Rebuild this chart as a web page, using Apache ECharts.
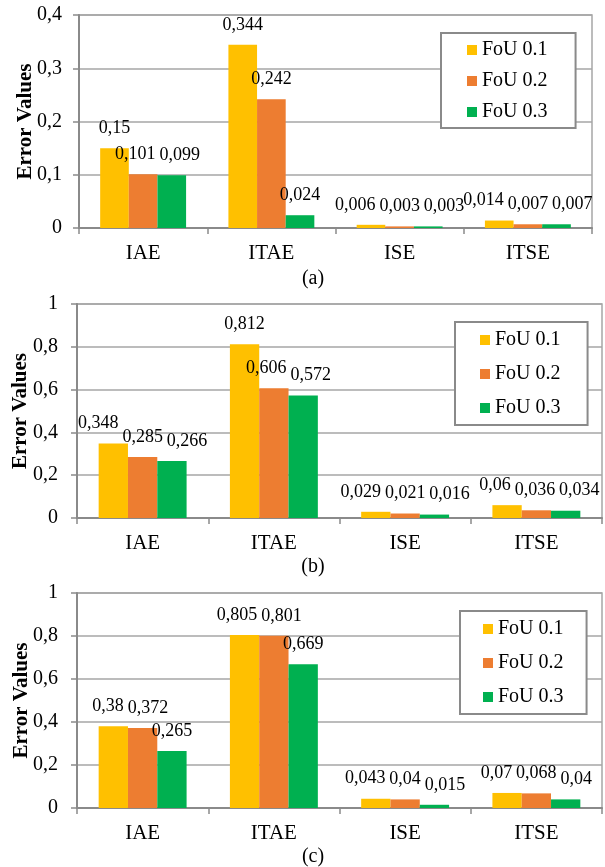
<!DOCTYPE html>
<html>
<head>
<meta charset="utf-8">
<script src="https://cdn.jsdelivr.net/npm/echarts@6/dist/echarts.min.js"></script>
<style>
html,body{margin:0;padding:0;background:#fff;}
#c{width:605px;height:867px;}
</style>
</head>
<body>
<div id="c"></div>
<script>
// ---- Data ----
const categories = ['IAE', 'ITAE', 'ISE', 'ITSE'];
const seriesNames = ['FoU 0.1', 'FoU 0.2', 'FoU 0.3'];
// panel (a)
const a_fou1 = [0.15, 0.344, 0.006, 0.014];
const a_fou2 = [0.101, 0.242, 0.003, 0.007];
const a_fou3 = [0.099, 0.024, 0.003, 0.007];
// panel (b)
const b_fou1 = [0.348, 0.812, 0.029, 0.06];
const b_fou2 = [0.285, 0.606, 0.021, 0.036];
const b_fou3 = [0.266, 0.572, 0.016, 0.034];
// panel (c)
const c_fou1 = [0.38, 0.805, 0.043, 0.07];
const c_fou2 = [0.372, 0.801, 0.04, 0.068];
const c_fou3 = [0.265, 0.669, 0.015, 0.04];
const yTicksA = [0, 0.1, 0.2, 0.3, 0.4];
const yTicksBC = [0, 0.2, 0.4, 0.6, 0.8, 1];
const captions = ['(a)', '(b)', '(c)'];

// ---- Styling / layout ----
const FONT = '"Liberation Serif", "Times New Roman", serif';
const colors = ['#FFC000', '#ED7D31', '#00B050'];
const axisGray = '#8a8a8a';
const gridGray = '#a6a6a6';
const gapRatio = 0.33;
const labelSize = 18;
const labelDist = 11;
const labelPad = 4;

const panels = [
  { data: [a_fou1, a_fou2, a_fou3], ticks: yTicksA, grid: {left: 79, top: 15, width: 513, height: 213}, nameGap: 43, labelMargin: 17,
    legend: {left: 441, top: 33, padding: [7, 28, 6, 26], itemGap: 11}, caption: [313, 279] },
  { data: [b_fou1, b_fou2, b_fou3], ticks: yTicksBC, grid: {left: 77, top: 304, width: 525, height: 214}, nameGap: 46, labelMargin: 19,
    legend: {left: 455, top: 322, padding: [8, 27, 7, 25], itemGap: 14}, caption: [313, 567] },
  { data: [c_fou1, c_fou2, c_fou3], ticks: yTicksBC, grid: {left: 77, top: 593, width: 525, height: 215}, nameGap: 45, labelMargin: 19,
    legend: {left: 460, top: 611, padding: [8, 23, 7, 23], itemGap: 14}, caption: [313, 857] }
];

function fmt(v) {
  return (+(+v).toFixed(3)).toString().replace('.', ',');
}

const ctx = document.createElement('canvas').getContext('2d');
ctx.font = labelSize + 'px ' + FONT;

// Spread overlapping value labels within a category group (like Excel's label fitting)
function labelOffsets(p) {
  const ticks = p.ticks;
  const maxV = ticks[ticks.length - 1];
  const pxPer = p.grid.height / maxV;
  const catW = p.grid.width / categories.length;
  const barW = catW * (1 - gapRatio) / 3;
  const res = [[], [], []];
  for (let j = 0; j < categories.length; j++) {
    const L = [];
    for (let i = 0; i < 3; i++) {
      const v = p.data[i][j];
      L.push({ x: (i - 1) * barW, y: -v * pxPer, w: ctx.measureText(fmt(v)).width, dx: 0 });
    }
    for (let it = 0; it < 30; it++) {
      for (let k = 0; k < 2; k++) {
        const A = L[k], B = L[k + 1];
        if (Math.abs(A.y - B.y) >= labelSize) continue;
        const o = (A.x + A.dx + A.w / 2 + labelPad) - (B.x + B.dx - B.w / 2);
        if (o > 0.01) { A.dx -= o / 2; B.dx += o / 2; }
      }
    }
    for (let i = 0; i < 3; i++) res[i].push(L[i].dx);
  }
  return res;
}

const grids = [], xAxes = [], yAxes = [], series = [], legends = [], graphics = [];
panels.forEach((p, k) => {
  grids.push(Object.assign({ show: true, borderColor: gridGray, borderWidth: 1.5, backgroundColor: '#fff',
    containLabel: false, outerBoundsMode: 'none' }, p.grid));
  xAxes.push({
    type: 'category', gridIndex: k, data: categories,
    axisLine: { lineStyle: { color: axisGray, width: 2 } },
    axisTick: { show: true, length: 6, lineStyle: { color: axisGray, width: 1.5 } },
    axisLabel: { fontFamily: FONT, fontSize: 21, color: '#000', margin: 15 },
    splitLine: { show: false }
  });
  const mx = p.ticks[p.ticks.length - 1];
  yAxes.push({
    type: 'value', gridIndex: k, min: 0, max: mx, interval: p.ticks[1] - p.ticks[0],
    name: 'Error Values', nameLocation: 'middle', nameGap: p.nameGap, nameMoveOverlap: false,
    nameTextStyle: { fontFamily: FONT, fontSize: 21, fontWeight: 'bold', color: '#000' },
    axisLine: { show: true, lineStyle: { color: axisGray, width: 2 } },
    axisTick: { show: true, length: 6, lineStyle: { color: axisGray, width: 1.5 } },
    axisLabel: { fontFamily: FONT, fontSize: 20, color: '#000', margin: p.labelMargin, formatter: fmt },
    splitLine: { show: true, lineStyle: { color: gridGray, width: 1.5 } }
  });
  const offs = labelOffsets(p);
  for (let i = 0; i < 3; i++) {
    series.push({
      type: 'bar', name: seriesNames[i], xAxisIndex: k, yAxisIndex: k,
      barGap: '0%', barCategoryGap: (gapRatio * 100) + '%',
      itemStyle: { color: colors[i] },
      label: { show: true, position: 'top', distance: labelDist, fontFamily: FONT, fontSize: labelSize, color: '#000',
               formatter: (q) => fmt(q.value) },
      data: p.data[i].map((v, j) => ({ value: v, label: { offset: [offs[i][j], 0] } })),
      animation: false
    });
  }
  legends.push(Object.assign({
    orient: 'vertical', data: seriesNames, itemWidth: 10, itemHeight: 10, icon: 'rect',
    borderColor: axisGray, borderWidth: 2, backgroundColor: '#fff',
    textStyle: { fontFamily: FONT, fontSize: 20, color: '#000' },
    selectedMode: false
  }, p.legend));
  graphics.push({
    type: 'text', x: p.caption[0], y: p.caption[1],
    style: { text: captions[k], font: '20px ' + FONT, fill: '#000', textAlign: 'center', textVerticalAlign: 'middle' }
  });
});

const chart = echarts.init(document.getElementById('c'), null, { renderer: 'canvas' });
chart.setOption({
  backgroundColor: '#fff',
  animation: false,
  grid: grids, xAxis: xAxes, yAxis: yAxes, series: series, legend: legends, graphic: graphics
});
</script>
</body>
</html>
